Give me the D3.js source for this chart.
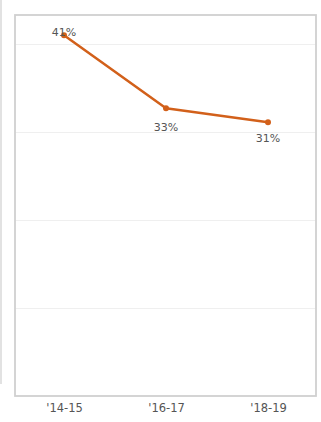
<!DOCTYPE html>
<html>
<head>
<meta charset="utf-8">
<script src="https://cdn.jsdelivr.net/npm/d3@7"></script>
<style>
  html, body { margin: 0; padding: 0; background: #fff; }
  svg { display: block; }
  text { font-family: "DejaVu Sans", Tahoma, sans-serif; }
</style>
</head>
<body>
<svg id="chart" width="321" height="422"></svg>
<script>
const categories = ["'14-15", "'16-17", "'18-19"];
const values = [0.41, 0.327, 0.311];
const valueLabels = ["41%", "33%", "31%"];
const gridTicks = [0.1, 0.2, 0.3, 0.4];

const W = 321, H = 422;
const frame = { left: 15, right: 316, top: 15, bottom: 396 };

const svg = d3.select("#chart");

const x = d3.scalePoint().domain(categories).range([13, 319]).padding(0.5);
const y = d3.scaleLinear().domain([0, 0.433]).range([frame.bottom, frame.top]);

// faint left strip line (neighbouring pane edge)
svg.append("line")
  .attr("x1", 1).attr("x2", 1).attr("y1", 0).attr("y2", 384)
  .attr("stroke", "#d9d9d9").attr("stroke-width", 1.5);

// gridlines
svg.append("g").selectAll("line").data(gridTicks).join("line")
  .attr("x1", frame.left).attr("x2", frame.right)
  .attr("y1", d => Math.round(y(d)) + 0.5).attr("y2", d => Math.round(y(d)) + 0.5)
  .attr("stroke", "#efefef").attr("stroke-width", 1);

// frame
svg.append("rect")
  .attr("x", frame.left).attr("y", frame.top)
  .attr("width", frame.right - frame.left).attr("height", frame.bottom - frame.top)
  .attr("fill", "none").attr("stroke", "#d0d0d0").attr("stroke-width", 1.8);

// x axis labels
const xAxis = d3.axisBottom(x).tickSize(0).tickPadding(8);
const gx = svg.append("g").attr("transform", `translate(0,${frame.bottom})`).call(xAxis);
gx.select(".domain").remove();
gx.selectAll("text").attr("font-size", 11.5).attr("fill", "#555")
  .attr("font-family", "'DejaVu Sans', sans-serif");

// line
const line = d3.line().x((d, i) => x(categories[i])).y(d => y(d));
svg.append("path").datum(values)
  .attr("d", line).attr("fill", "none")
  .attr("stroke", "#d2601a").attr("stroke-width", 2.5)
  .attr("stroke-linejoin", "round");

svg.append("g").selectAll("circle").data(values).join("circle")
  .attr("cx", (d, i) => x(categories[i])).attr("cy", d => y(d))
  .attr("r", 3).attr("fill", "#d2601a");

// value labels
const labelOffsets = [1, 23, 20];
svg.append("g").selectAll("text").data(values).join("text")
  .attr("x", (d, i) => x(categories[i]))
  .attr("y", (d, i) => y(d) + labelOffsets[i])
  .attr("text-anchor", "middle")
  .attr("font-size", 11).attr("fill", "#555")
  .text((d, i) => valueLabels[i]);
</script>
</body>
</html>
